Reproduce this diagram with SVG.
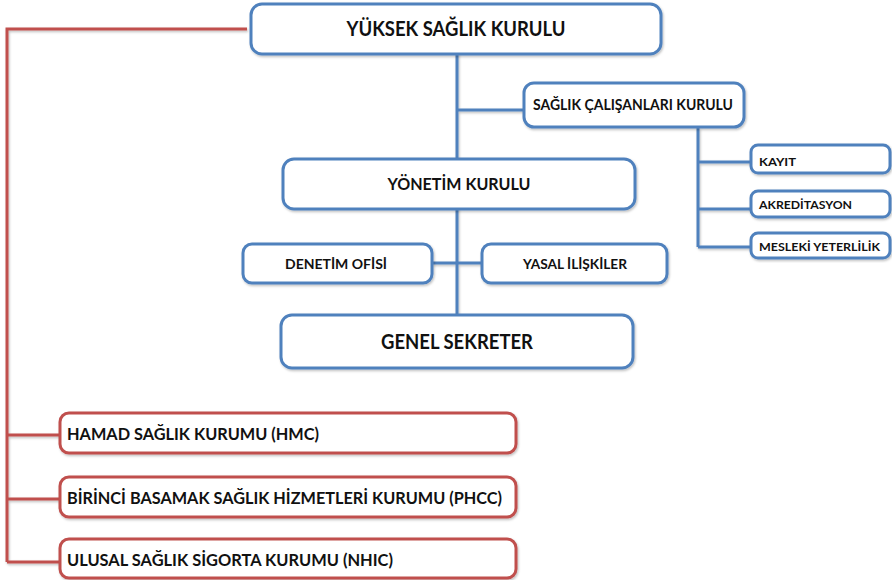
<svg xmlns="http://www.w3.org/2000/svg" width="892" height="580" viewBox="0 0 892 580">
<defs>
<filter id="sh" x="-5%" y="-10%" width="110%" height="130%"><feDropShadow dx="1" dy="1.5" stdDeviation="1" flood-color="#000" flood-opacity="0.25"/></filter>
</defs>
<style>
.bb{fill:#fff;stroke:#4F81BD;stroke-width:3;filter:url(#sh)}
.rb{fill:#fff;stroke:#C0504D;stroke-width:3;filter:url(#sh)}
.bl{stroke:#4F81BD;stroke-width:3;fill:none;filter:url(#sh)}
.rl{stroke:#C0504D;stroke-width:3;fill:none;filter:url(#sh)}
text{font-family:Lato,"Open Sans","Liberation Sans",sans-serif;font-weight:bold;fill:#111}
.c{text-anchor:middle}
</style>
<rect width="892" height="580" fill="#fff"/>
<g id="connectors">
<path class="bl" d="M457 53V315M457 110H524M698 128V247M698 162H751M698 209H751M698 247H751M432 263H482"/>
<path class="rl" d="M247 29H7V562M7 435H60M7 499H60M7 562H60"/>
</g>
<g id="n-yuksek"><rect class="bb" x="251" y="4" width="410" height="50" rx="11"/><text class="c" x="456" y="36" font-size="20" textLength="219" lengthAdjust="spacingAndGlyphs">YÜKSEK SAĞLIK KURULU</text></g>
<g id="n-calisan"><rect class="bb" x="524" y="83" width="220" height="44" rx="10"/><text class="c" x="633" y="110" font-size="15" textLength="200" lengthAdjust="spacingAndGlyphs">SAĞLIK  ÇALIŞANLARI  KURULU</text></g>
<g id="n-kayit"><rect class="bb" x="751" y="145" width="139" height="28" rx="7"/><text x="759" y="166" font-size="12" textLength="37" lengthAdjust="spacingAndGlyphs">KAYIT</text></g>
<g id="n-akred"><rect class="bb" x="751" y="191" width="139" height="26" rx="7"/><text x="759" y="209" font-size="12" textLength="93" lengthAdjust="spacingAndGlyphs">AKREDİTASYON</text></g>
<g id="n-mesleki"><rect class="bb" x="751" y="233" width="139" height="25" rx="7"/><text x="759" y="251" font-size="12" textLength="121" lengthAdjust="spacingAndGlyphs">MESLEKİ YETERLİLİK</text></g>
<g id="n-yonetim"><rect class="bb" x="283" y="159" width="352" height="50" rx="11"/><text class="c" x="459" y="190" font-size="17" textLength="143" lengthAdjust="spacingAndGlyphs">YÖNETİM  KURULU</text></g>
<g id="n-denetim"><rect class="bb" x="243" y="244" width="189" height="39" rx="9"/><text class="c" x="336" y="269" font-size="14" textLength="102" lengthAdjust="spacingAndGlyphs">DENETİM  OFİSİ</text></g>
<g id="n-yasal"><rect class="bb" x="482" y="244" width="185" height="39" rx="9"/><text class="c" x="575" y="269" font-size="14" textLength="104" lengthAdjust="spacingAndGlyphs">YASAL  İLİŞKİLER</text></g>
<g id="n-genel"><rect class="bb" x="281" y="315" width="352" height="53" rx="11"/><text class="c" x="457" y="349" font-size="20" textLength="152" lengthAdjust="spacingAndGlyphs">GENEL SEKRETER</text></g>
<g id="n-hmc"><rect class="rb" x="60" y="413" width="456" height="40" rx="9"/><text x="67" y="440" font-size="17.5" textLength="252" lengthAdjust="spacingAndGlyphs">HAMAD SAĞLIK KURUMU  (HMC)</text></g>
<g id="n-phcc"><rect class="rb" x="60" y="477" width="456" height="40" rx="9"/><text x="67" y="504" font-size="17.5" textLength="435" lengthAdjust="spacingAndGlyphs">BİRİNCİ  BASAMAK SAĞLIK HİZMETLERİ  KURUMU (PHCC)</text></g>
<g id="n-nhic"><rect class="rb" x="60" y="539" width="456" height="39" rx="9"/><text x="67" y="566" font-size="17.5" textLength="326" lengthAdjust="spacingAndGlyphs">ULUSAL SAĞLIK SİGORTA KURUMU (NHIC)</text></g>
</svg>
